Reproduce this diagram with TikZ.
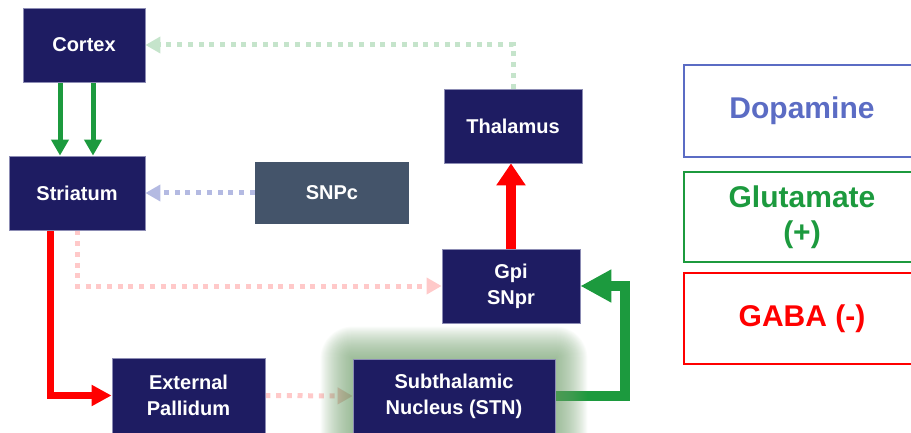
\documentclass[tikz,border=0pt]{standalone}
\usepackage{fontspec}
\setmainfont{Liberation Sans}
\usetikzlibrary{arrows.meta, positioning}
\definecolor{boxblue}{RGB}{30,28,98}
\definecolor{boxline}{RGB}{140,140,180}
\definecolor{snpcgrey}{RGB}{68,84,106}
\definecolor{glugreen}{RGB}{28,154,62}
\definecolor{dopablue}{RGB}{91,108,196}
\definecolor{dotblue}{RGB}{180,186,226}
\definecolor{dotgreen}{RGB}{197,228,203}
\definecolor{dotpink}{RGB}{255,201,201}
\definecolor{glowgreen}{RGB}{115,160,110}
\pgfdeclarelayer{glow}
\pgfdeclarelayer{front}
\pgfsetlayers{main,glow,front}

\begin{document}
\begin{tikzpicture}[x=1pt, y=-1pt,
  nucleus/.style={fill=boxblue, draw=boxline, line width=0.8pt, text=white, font=\fontsize{20}{26}\selectfont\bfseries, align=center, inner sep=0pt},
  legendbox/.style={draw, line width=2pt, font=\fontsize{30}{35}\selectfont\bfseries, align=center, minimum width=236pt, inner sep=0pt},
  dotline/.style={line width=5pt, dash pattern=on 5pt off 5.7pt, -{Triangle[width=16pt,length=15pt]}},
  glu/.style={glugreen, line width=5pt, -{Triangle[width=17pt,length=16pt]}},
  gluthick/.style={glugreen, line width=10pt, -{Triangle[width=31pt,length=31pt]}},
  gaba/.style={red, line width=7pt, -{Triangle[width=20pt,length=20pt]}},
  gabathick/.style={red, line width=10pt, -{Triangle[width=28pt,length=22pt]}}]
  \useasboundingbox (0,0) rectangle (911,433);

  \begin{pgfonlayer}{front}
  \node[nucleus, minimum width=122pt, minimum height=74pt] (cortex) at (84,45) {Cortex};
  \node[nucleus, minimum width=136pt, minimum height=74pt] (striatum) at (77,193) {Striatum};
  \node[nucleus, fill=snpcgrey, draw=none, minimum width=154pt, minimum height=62pt] (snpc) at (332,193) {SNPc};
  \node[nucleus, minimum width=138pt, minimum height=74pt] (thalamus) at (513,126) {Thalamus};
  \node[nucleus, minimum width=138pt, minimum height=74pt] (gpi) at (511,286) {Gpi\\SNpr};
  \node[nucleus, minimum width=153pt, minimum height=75pt] (extpal) at (188.5,395.5) {External\\Pallidum};
  \node[nucleus, minimum width=202pt, minimum height=74pt] (stn) at (454,396) {Subthalamic\\Nucleus (STN)};

  \node[legendbox, draw=dopablue, text=dopablue, minimum height=92pt] (dopamine) at (802,111) {Dopamine};
  \node[legendbox, draw=glugreen, text=glugreen, minimum height=90pt] (glutamate) at (802,217) {Glutamate\\(+)};
  \node[legendbox, draw=red, text=red, minimum height=91pt] (gabakey) at (802,318.5) {GABA (-)};
  \end{pgfonlayer}

  \draw[glu] ([xshift=-24pt]cortex.south) -- ([xshift=-24pt]cortex.south |- striatum.north);
  \draw[glu] ([xshift=9pt]cortex.south) -- ([xshift=9pt]cortex.south |- striatum.north);
  \draw[dotline, dotblue] (snpc.west) -- (striatum.east);
  \draw[dotline, dotgreen] (thalamus.north) |- (cortex.east);
  \draw[dotline, dotpink] (striatum.south) |- (gpi.west);
  \draw[dotline, dotpink] (extpal.east) -- (stn.west);
  \draw[gaba] ([xshift=-27pt]striatum.south) |- (extpal.west);
  \draw[gabathick] (gpi.north) -- (gpi.north |- thalamus.south);
  \draw[gluthick] (stn.east) -- ++(70,0) |- (gpi.east);

  % soft glow round the STN
  \begin{pgfonlayer}{glow}
  \foreach \r in {1,...,32}
    \fill[glowgreen, opacity=0.034, rounded corners=\r pt]
      ([shift={({-\r*1pt},{\r*1pt})}]stn.north west) rectangle ([shift={({\r*1pt},{-\r*1pt})}]stn.south east);
  \end{pgfonlayer}
\end{tikzpicture}
\end{document}
